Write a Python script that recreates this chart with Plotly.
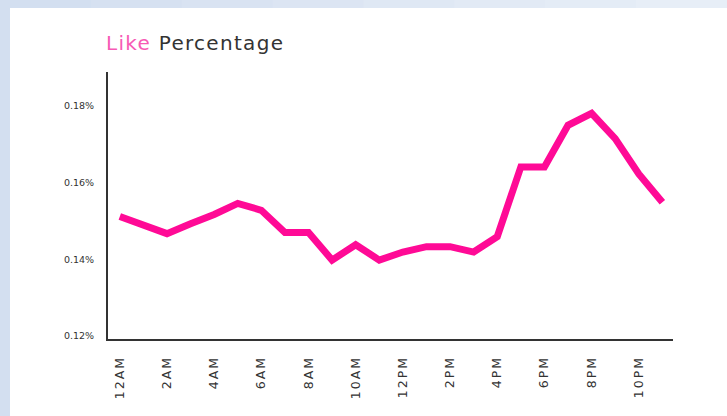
import plotly.graph_objects as go

hours = ["12AM", "1AM", "2AM", "3AM", "4AM", "5AM", "6AM", "7AM", "8AM", "9AM", "10AM", "11AM",
         "12PM", "1PM", "2PM", "3PM", "4PM", "5PM", "6PM", "7PM", "8PM", "9PM", "10PM", "11PM"]
like_pct = [0.1512, 0.1490, 0.1467, 0.1493, 0.1517, 0.1546, 0.1528, 0.1470, 0.1470, 0.1398,
            0.1438, 0.1398, 0.1419, 0.1433, 0.1433, 0.1419, 0.1459, 0.1641, 0.1641, 0.1750,
            0.1781, 0.1715, 0.1623, 0.1549]
tick_hours = ["12AM", "2AM", "4AM", "6AM", "8AM", "10AM", "12PM", "2PM", "4PM", "6PM", "8PM", "10PM"]
y_ticks = [0.12, 0.14, 0.16, 0.18]
y_tick_labels = ["0.12%", "0.14%", "0.16%", "0.18%"]

PINK = "#ff0a96"

fig = go.Figure()
fig.add_trace(go.Scatter(
    x=hours, y=like_pct, mode="lines",
    line=dict(color=PINK, width=7),
    hoverinfo="skip", showlegend=False,
))

L, R, T, B = 108, 54, 72, 77
W, H = 727, 416
pw, ph = W - L - R, H - T - B

def px(xpix):
    return (xpix - L) / pw

def py(ypix):
    return (H - B - ypix) / ph

shapes = []
# light-blue backdrop with a white card
shapes.append(dict(type="rect", xref="paper", yref="paper", x0=px(-2), x1=px(W + 5),
                   y0=py(H + 5), y1=py(-2), fillcolor="#d3dff0", line_width=0, layer="below"))
cols = ["#d3dff0", "#d6e1f1", "#d9e3f2", "#dce5f3", "#dfe8f4", "#e2eaf5", "#e4ecf6", "#e7eef7"]
n = len(cols)
for i, c in enumerate(cols):
    shapes.append(dict(type="rect", xref="paper", yref="paper",
                       x0=px(W * i / n), x1=px(W * (i + 1) / n + 1),
                       y0=py(8), y1=py(-2), fillcolor=c, line_width=0, layer="below"))
shapes.append(dict(type="rect", xref="paper", yref="paper", x0=px(10), x1=px(W + 5),
                   y0=py(H + 5), y1=py(8), fillcolor="#ffffff", line_width=0, layer="below"))

fig.update_layout(
    width=W, height=H,
    margin=dict(l=L, r=R, t=T, b=B),
    paper_bgcolor="#ffffff", plot_bgcolor="rgba(0,0,0,0)",
    shapes=shapes,
    font=dict(family="DejaVu Sans", color="#333333"),
    annotations=[dict(
        xref="paper", yref="paper", x=px(104), y=py(43), xanchor="left", yanchor="middle",
        showarrow=False,
        text='<span style="letter-spacing:1.3px"><span style="color:#f75ab5">Like</span> Percentage</span>',
        font=dict(family="DejaVu Sans", size=20, color="#333333"),
    )],
    xaxis=dict(
        type="category", categoryorder="array", categoryarray=hours,
        range=[-0.5, 23.45],
        tickmode="array", tickvals=tick_hours,
        ticktext=['<span style="letter-spacing:2px">%s</span>' % t for t in tick_hours],
        tickangle=-90, ticks="outside", ticklen=10, tickcolor="rgba(0,0,0,0)",
        tickfont=dict(family="DejaVu Sans", size=12.5, color="#333333"),
        showgrid=False, zeroline=False,
        showline=True, linecolor="#333333", linewidth=2,
        fixedrange=True,
    ),
    yaxis=dict(
        range=[0.1192, 0.1889],
        tickmode="array", tickvals=y_ticks, ticktext=y_tick_labels,
        ticks="outside", ticklen=10, tickcolor="rgba(0,0,0,0)",
        tickfont=dict(family="DejaVu Sans", size=9.5, color="#333333"),
        showgrid=False, zeroline=False,
        showline=True, linecolor="#333333", linewidth=2,
        fixedrange=True,
    ),
)

fig.write_html("out.html", config={"displayModeBar": False},
               post_script="document.body.style.margin='0';document.body.style.overflow='hidden';")
